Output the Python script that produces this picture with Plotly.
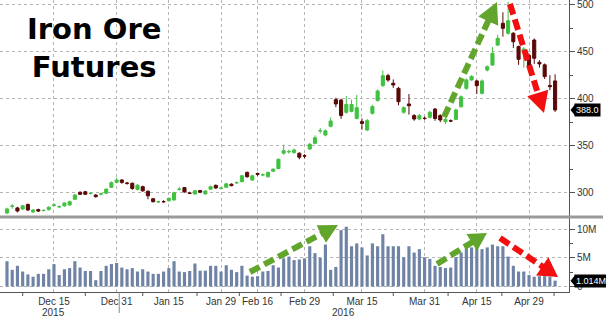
import math
import pandas as pd
import plotly.graph_objects as go
from plotly.subplots import make_subplots

# ---------------- data ----------------
holidays = ['2016-01-01', '2016-02-08', '2016-02-09', '2016-02-10', '2016-02-11',
            '2016-02-12', '2016-04-04', '2016-05-02']
dates = [d.strftime('%Y-%m-%d') for d in pd.bdate_range('2015-12-02', '2016-05-09')
         if d.strftime('%Y-%m-%d') not in holidays]

open_ = [278.5, 285.5, 283.8, 282.7, 287.5, 279.5, 282.0, 281.0, 282.0, 286.5,
         285.0, 286.0, 287.0, 293.0, 300.4, 301.0, 299.2, 297.5, 298.6, 299.4,
         305.7, 311.0, 313.5, 310.2, 310.0, 303.5, 306.4, 301.5, 293.6, 290.2,
         290.6, 291.5, 292.3, 303.5, 305.4, 299.6, 298.6, 302.3, 298.7, 303.7,
         307.8, 304.6, 305.8, 309.0, 310.5, 311.7, 321.6, 313.5, 320.4, 318.9,
         317.0, 322.8, 325.6, 342.0, 343.5, 342.6, 342.0, 339.2, 346.5, 352.5,
         365.8, 361.4, 370.6, 399.0, 398.6, 385.5, 386.5, 379.0, 375.6, 366.7,
         384.5, 398.0, 413.9, 424.5, 416.4, 411.0, 385.6, 394.4, 382.0, 378.4,
         379.2, 380.2, 389.0, 382.0, 375.6, 376.5, 378.0, 391.5, 411.0, 420.0,
         418.9, 405.7, 430.5, 435.8, 457.0, 480.2, 469.6, 469.6, 455.4, 450.0,
         446.0, 462.4, 438.7, 436.0, 414.0, 418.9]
close = [282.7, 285.8, 280.5, 286.0, 281.6, 281.6, 280.5, 281.2, 284.5, 286.9,
         285.2, 289.0, 290.5, 297.5, 298.3, 298.3, 299.4, 295.8, 298.8, 303.8,
         310.7, 313.5, 311.0, 310.0, 304.5, 308.0, 302.0, 296.7, 290.5, 290.4,
         290.4, 294.0, 300.0, 303.7, 300.8, 299.4, 302.0, 300.5, 301.8, 306.4,
         305.0, 304.8, 309.4, 307.5, 310.7, 318.0, 317.0, 318.0, 319.6, 319.1,
         321.6, 325.0, 335.5, 344.7, 343.7, 345.4, 337.7, 339.0, 351.5, 358.5,
         366.0, 365.8, 376.3, 394.4, 382.0, 394.0, 393.8, 390.4, 373.7, 376.6,
         391.6, 408.2, 424.5, 419.9, 414.6, 396.8, 390.5, 392.5, 378.4, 382.0,
         379.0, 385.6, 379.0, 377.4, 378.0, 376.3, 388.0, 402.0, 420.0, 423.7,
         413.9, 418.9, 434.0, 448.3, 464.2, 474.9, 483.0, 460.6, 441.9, 452.9,
         434.0, 443.0, 437.0, 423.5, 412.8, 388.0]
high = [284.0, 288.0, 285.0, 287.0, 288.5, 282.5, 283.0, 282.0, 285.5, 289.0,
        286.5, 290.0, 291.5, 298.5, 301.5, 302.0, 300.5, 298.5, 300.0, 304.5,
        312.0, 316.0, 314.5, 311.5, 311.0, 309.0, 307.5, 302.5, 294.5, 291.5,
        292.0, 295.0, 301.0, 306.0, 306.0, 301.0, 303.0, 303.0, 302.5, 307.5,
        308.8, 306.0, 310.5, 310.0, 312.0, 319.0, 322.5, 319.0, 321.5, 320.5,
        322.5, 326.0, 336.5, 351.0, 346.0, 347.0, 343.0, 341.0, 353.0, 361.0,
        369.0, 367.5, 380.0, 401.0, 400.0, 403.0, 399.0, 404.0, 379.0, 378.5,
        393.5, 410.0, 430.0, 426.5, 420.5, 412.5, 392.0, 405.0, 383.5, 384.0,
        381.0, 387.0, 390.0, 383.5, 379.5, 378.0, 389.5, 403.5, 421.5, 425.0,
        420.0, 420.5, 435.5, 455.0, 468.0, 492.0, 503.0, 471.0, 456.5, 455.0,
        448.0, 464.0, 441.0, 437.5, 425.0, 426.0]
low = [277.0, 283.0, 279.0, 281.5, 280.5, 278.5, 279.5, 280.0, 281.0, 285.5,
       283.5, 285.0, 286.0, 292.0, 297.5, 297.5, 298.0, 294.8, 297.0, 298.5,
       305.0, 310.0, 309.5, 308.5, 303.0, 302.5, 301.0, 293.0, 289.5, 289.0,
       289.0, 290.5, 291.5, 302.0, 300.0, 298.5, 298.0, 299.5, 298.0, 303.0,
       304.2, 303.5, 305.0, 306.8, 309.5, 311.0, 316.0, 312.5, 318.0, 317.5,
       316.0, 322.0, 325.0, 340.5, 341.5, 341.5, 335.5, 336.5, 345.5, 351.5,
       363.0, 360.0, 369.5, 391.0, 378.5, 384.0, 385.5, 378.0, 367.0, 365.5,
       383.0, 397.0, 412.5, 418.0, 411.5, 393.0, 384.0, 383.0, 376.5, 377.0,
       377.5, 379.0, 376.5, 375.0, 373.0, 375.0, 377.5, 390.5, 409.5, 419.0,
       405.0, 404.5, 429.0, 435.0, 456.0, 466.0, 468.0, 454.0, 436.0, 433.0,
       430.0, 437.0, 433.0, 421.0, 409.0, 386.0]
volume_m = [4.4, 2.9, 3.6, 2.6, 2.1, 1.7, 2.2, 2.2, 3.0, 3.9,
            2.0, 3.0, 3.2, 4.4, 3.3, 2.7, 2.7, 1.1, 2.7, 3.6,
            3.9, 4.1, 3.3, 3.0, 3.2, 2.6, 3.0, 2.6, 2.2, 2.2,
            2.6, 3.2, 4.4, 2.6, 2.5, 2.7, 4.0, 2.75, 2.75, 3.6,
            3.6, 2.6, 3.7, 2.9, 2.5, 3.6, 1.9, 1.7, 1.8, 2.6,
            2.7, 3.7, 3.3, 4.9, 5.2, 4.6, 4.7, 4.9, 7.0, 5.8,
            5.0, 7.3, 2.9, 3.4, 9.8, 10.4, 7.0, 7.5, 6.8, 5.4,
            7.5, 7.0, 9.1, 7.0, 7.0, 7.0, 5.1, 7.0, 5.9, 6.5,
            5.1, 4.8, 3.6, 3.4, 3.2, 3.3, 5.1, 5.9, 6.8, 6.8,
            6.8, 6.5, 6.8, 7.3, 7.0, 7.0, 5.2, 3.6, 2.6, 2.6,
            2.0, 1.7, 1.8, 1.8, 1.7, 1.014]

tick_dates = ['2015-12-15', '2015-12-31', '2016-01-15', '2016-01-29', '2016-02-16',
              '2016-02-29', '2016-03-15', '2016-03-31', '2016-04-15', '2016-04-29']
tick_labels = ['Dec 15', 'Dec 31', 'Jan 15', 'Jan 29', 'Feb 16',
               'Feb 29', 'Mar 15', 'Mar 31', 'Apr 15', 'Apr 29']
price_ticks = [300, 350, 400, 450, 500]
vol_ticks = [0, 5, 10]
vol_tick_labels = ['0', '5M', '10M']
title_text = 'Iron Ore<br>Futures'
last_price_label = '388.0'
last_vol_label = '1.014M'

# ---------------- layout helpers (pixel geometry) ----------------
W, H = 606, 322
ML, MR, MT, MB = 0, 37, 0, 30
PW, PH = W - ML - MR, H - MT - MB
SEP = 217  # pixel y of panel separator


def px(x):
    return (x - ML) / PW


def py(y):
    return (MT + PH - y) / PH


split = py(SEP)

fig = make_subplots(rows=2, cols=1, shared_xaxes=True, vertical_spacing=0,
                    row_heights=[1 - split, split])

GREEN = '#3ec23e'
DARK = '#5a0909'
fig.add_trace(go.Candlestick(
    x=dates, open=open_, high=high, low=low, close=close,
    increasing=dict(line=dict(color='#44c044', width=1), fillcolor=GREEN),
    decreasing=dict(line=dict(color=DARK, width=1), fillcolor=DARK),
    whiskerwidth=0, showlegend=False), row=1, col=1)

fig.add_trace(go.Bar(x=dates, y=volume_m, marker=dict(color='#6f83a7', line=dict(width=0)),
                     showlegend=False), row=2, col=1)

step = 5.22
first_px = 7
xr = [(0 - first_px) / step, (PW - first_px) / step]

AXFONT = dict(family='Arial', size=10, color='#333')
grid = dict(showgrid=True, gridcolor='#b4b4b4', griddash='dot', gridwidth=1)
fig.update_xaxes(type='category', range=xr, tickvals=tick_dates, ticktext=tick_labels,
                 rangeslider_visible=False, zeroline=False, automargin=False, **grid)
fig.update_xaxes(showticklabels=False, showline=False, ticks='', row=1, col=1)
fig.update_xaxes(showticklabels=True, showline=True, linecolor='#555', linewidth=1,
                 ticks='', tickfont=AXFONT, row=2, col=1)

pr_lo = 500 - (SEP - 4.7) / 0.94
pr_hi = 500 + 4.7 / 0.94
fig.update_yaxes(range=[pr_lo, pr_hi], side='right', tickvals=price_ticks,
                 ticks='outside', ticklen=5, tickcolor='#555', showline=True,
                 linecolor='#555', linewidth=1, zeroline=False, automargin=False,
                 tickfont=AXFONT, ticklabeloverflow='allow',
                 minor=dict(tickvals=[325, 375, 425, 475], ticks='outside', ticklen=3,
                            tickcolor='#555', showgrid=False),
                 row=1, col=1, **grid)
v_lo = -(MT + PH - 286.5) / 5.75
v_hi = (286.5 - SEP) / 5.75
fig.update_yaxes(range=[v_lo, v_hi], side='right', tickvals=vol_ticks, ticktext=vol_tick_labels,
                 ticks='outside', ticklen=5, tickcolor='#555', showline=True,
                 linecolor='#555', linewidth=1, zeroline=False, automargin=False,
                 tickfont=AXFONT, ticklabeloverflow='allow',
                 minor=dict(tickvals=[2.5, 7.5], ticks='outside', ticklen=3,
                            tickcolor='#555', showgrid=False),
                 row=2, col=1, **grid)

shapes = []
annotations = []

# separator line between panels
shapes.append(dict(type='line', xref='paper', yref='paper', x0=0, x1=px(603), y0=split, y1=split,
                   line=dict(color='#9a9a9a', width=3)))

# small x-axis tick marks between labels and the year divider
for idx in [3, 15, 26, 36.4, 44.5, 52.5, 62.5, 74, 84.5, 94.8, 104.8]:
    xpx = first_px + idx * step
    shapes.append(dict(type='line', xref='paper', yref='paper', x0=px(xpx), x1=px(xpx),
                       y0=py(292), y1=py(296), line=dict(color='#555', width=1)))
xdiv = first_px + 21.5 * step
shapes.append(dict(type='line', xref='paper', yref='paper', x0=px(xdiv), x1=px(xdiv),
                   y0=py(292), y1=py(313), line=dict(color='#888', width=1)))


def arrow(x0, y0, x1, y1, color, hl=21, hw=11, w=6, dash='11px,5px'):
    dx, dy = x1 - x0, y1 - y0
    L = math.hypot(dx, dy)
    ux, uy = dx / L, dy / L
    bx, by = x1 - ux * hl, y1 - uy * hl
    shapes.append(dict(type='line', xref='paper', yref='paper',
                       x0=px(x0), y0=py(y0), x1=px(bx + ux * 2), y1=py(by + uy * 2),
                       line=dict(color=color, width=w, dash=dash)))
    nx, ny = -uy, ux
    pts = [(x1, y1), (bx + nx * hw, by + ny * hw), (bx - nx * hw, by - ny * hw)]
    path = 'M {} {} L {} {} L {} {} Z'.format(*[v for p in pts for v in (px(p[0]), py(p[1]))])
    shapes.append(dict(type='path', xref='paper', yref='paper', path=path,
                       fillcolor=color, line=dict(width=0)))


ARROW_GREEN = '#62a52c'
ARROW_RED = '#f20f0f'
arrow(444, 117, 497, 2, ARROW_GREEN)
arrow(510, 4, 544, 113, ARROW_RED)
arrow(250, 272, 338, 225, ARROW_GREEN, hl=19, hw=10)
arrow(437, 264, 487, 233, ARROW_GREEN, hl=18, hw=10)
arrow(500, 238, 558, 277, ARROW_RED, hl=19, hw=11)

# last value tags (with left pointer)
TAGFONT = dict(family='Arial', size=9, color='#fff')
for yv, yref, txt in [(close[-1], 'y', last_price_label), (volume_m[-1], 'y2', last_vol_label)]:
    annotations.append(dict(x=px(574), xref='paper', y=yv, yref=yref, xanchor='left',
                            yanchor='middle', text=txt, showarrow=False, bgcolor='#000',
                            font=TAGFONT, borderpad=1))
for ypx in [110.0, 280.7]:
    path = 'M {} {} L {} {} L {} {} Z'.format(px(570.5), py(ypx), px(575), py(ypx - 5.5),
                                              px(575), py(ypx + 5.5))
    shapes.append(dict(type='path', xref='paper', yref='paper', path=path,
                       fillcolor='#000', line=dict(width=0)))

# year labels
annotations.append(dict(x=px(53), xref='paper', y=py(312), yref='paper', text='2015',
                        xanchor='center', yanchor='middle', showarrow=False, font=AXFONT))
annotations.append(dict(x=px(343), xref='paper', y=py(312), yref='paper', text='2016',
                        xanchor='center', yanchor='middle', showarrow=False, font=AXFONT))

# title
annotations.append(dict(x=px(94), xref='paper', y=py(10), yref='paper', xanchor='center',
                        yanchor='top', align='center', text='<b>' + title_text + '</b>',
                        showarrow=False,
                        font=dict(family='DejaVu Sans', size=29, color='#000')))

fig.update_layout(width=W, height=H, margin=dict(l=ML, r=MR, t=MT, b=MB),
                  paper_bgcolor='white', plot_bgcolor='white', bargap=0.4, boxgap=0.15,
                  shapes=shapes, annotations=annotations, showlegend=False)

fig.write_html('out.html')
